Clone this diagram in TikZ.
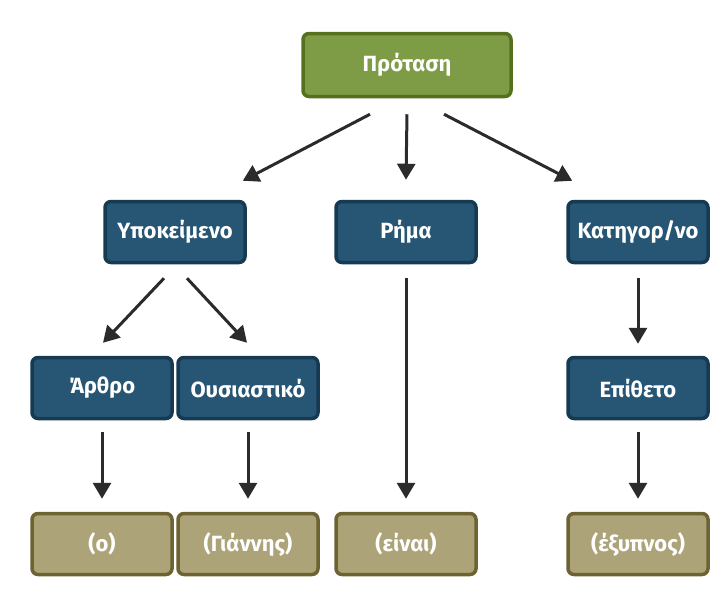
\documentclass[tikz,border=0pt]{standalone}
\usepackage{fontspec}
\setmainfont{Fira Sans}
\usetikzlibrary{arrows.meta,positioning}
\definecolor{prfill}{HTML}{7E9B46}
\definecolor{prdraw}{HTML}{56701F}
\definecolor{blfill}{HTML}{275674}
\definecolor{bldraw}{HTML}{163A52}
\definecolor{khfill}{HTML}{ACA379}
\definecolor{khdraw}{HTML}{6C6331}
\definecolor{arrcol}{HTML}{2B2B2B}
\tikzset{
  box/.style={rounded corners=6pt, line width=3.5pt, text=white,
    font=\fontsize{22}{26}\selectfont\bfseries, minimum width=140pt, minimum height=61pt},
  root/.style={box, fill=prfill, draw=prdraw, minimum width=208pt, minimum height=63pt},
  cat/.style={box, fill=blfill, draw=bldraw},
  word/.style={box, fill=khfill, draw=khdraw},
  arr/.style={-{Triangle[length=16pt,width=18pt]}, line width=3pt, draw=arrcol},
}

\begin{document}
\begin{tikzpicture}[x=1pt, y=1pt]
  \useasboundingbox (0,0) rectangle (721,-595);

  \node[root] (prot) at (407,-65) {Πρόταση};

  \node[cat] (subj) at (175,-232) {Υποκείμενο};
  \node[cat] (verb) at (406,-232) {Ρήμα};
  \node[cat] (pred) at (638,-232) {Κατηγορ/νο};

  \node[cat] (art)  at (102,-388) {Άρθρο};
  \node[cat] (noun) at (248,-388) {Ουσιαστικό};
  \node[cat] (adj)  at (638,-388) {Επίθετο};

  \node[word] (o)    at (102,-544) {(ο)};
  \node[word] (jan)  at (248,-544) {(Γιάννης)};
  \node[word] (einai) at (406,-544) {(είναι)};
  \node[word] (exyp) at (638,-544) {(έξυπνος)};

  % first level
  \draw[arr] ([xshift=-37pt,yshift=-16pt]prot.south) -- ([xshift=-4pt,yshift=19pt]subj.north east);
  \draw[arr] ([yshift=-16pt]prot.south) -- ([yshift=20pt]verb.north);
  \draw[arr] ([xshift=37pt,yshift=-16pt]prot.south) -- ([xshift=6pt,yshift=19pt]pred.north west);

  % second level
  \draw[arr] ([xshift=-11pt,yshift=-14pt]subj.south) -- ([xshift=1pt,yshift=13pt]art.north);
  \draw[arr] ([xshift=12pt,yshift=-14pt]subj.south) -- ([xshift=-1pt,yshift=13pt]noun.north);
  \draw[arr] ([yshift=-14pt]verb.south) -- ([yshift=13pt]einai.north);
  \draw[arr] ([yshift=-14pt]pred.south) -- ([yshift=12pt]adj.north);

  % words
  \foreach \a/\b in {art/o, noun/jan, adj/exyp}
    \draw[arr] ([yshift=-12pt]\a.south) -- ([yshift=13pt]\b.north);
\end{tikzpicture}
\end{document}
